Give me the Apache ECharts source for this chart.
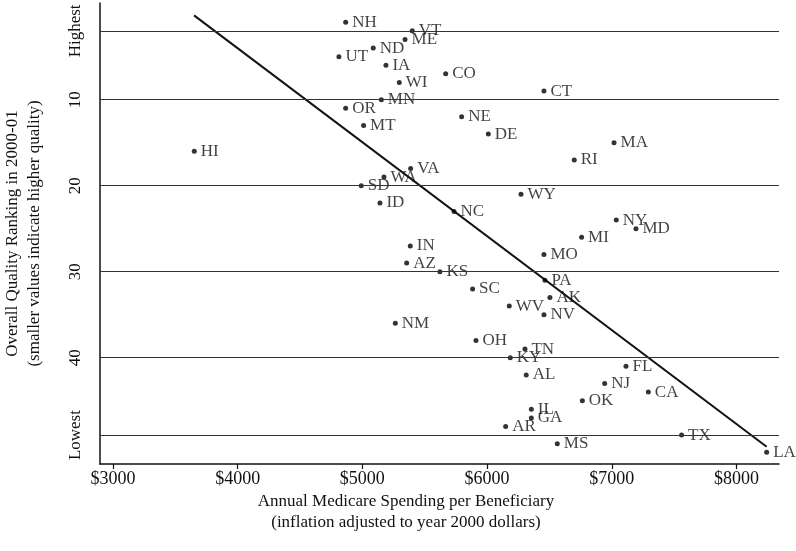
<!DOCTYPE html>
<html>
<head>
<meta charset="utf-8">
<script src="https://cdn.jsdelivr.net/npm/echarts@6/dist/echarts.min.js"></script>
<style>
  html, body { margin: 0; padding: 0; background: #fff; }
  #main { width: 796px; height: 551px; }
</style>
</head>
<body>
<div id="main"></div>
<script>
// states, spending ($ per beneficiary) and quality rank
var states = ['NH','VT','ME','ND','UT','IA','CO','WI','CT','MN','OR','NE','MT','DE','MA','HI','RI','VA','WA','SD',
  'WY','ID','NC','NY','MD','MI','IN','MO','AZ','KS','PA','SC','AK','WV','NV','NM','OH','TN','KY','FL',
  'AL','NJ','CA','OK','IL','GA','AR','TX','MS','LA'];
var spending = [4866,5400,5342,5087,4812,5189,5668,5296,6456,5152,4866,5796,5010,6010,7018,3652,6699,5387,5173,4991,
  6272,5141,5735,7036,7194,6758,5384,6456,5355,5622,6464,5884,6504,6178,6456,5264,5911,6304,6186,7114,
  6314,6943,7293,6764,6355,6355,6149,7560,6563,8242];
var ranks = [1,2,3,4,5,6,7,8,9,10,11,12,13,14,15,16,17,18,19,20,
  21,22,23,24,25,26,27,28,29,30,31,32,33,34,35,36,38,39,40,41,
  42,43,44,45,46,47,48,49,50,51];

// fitted line ends
var fitX = [3650, 8242];
var fitY = [0.2, 50.35];

var xTicks = [3000, 4000, 5000, 6000, 7000, 8000];
var yTicks = [2, 10, 20, 30, 40, 49];
var yTickNames = {2: 'Highest', 49: 'Lowest'};

var font = 'Liberation Serif';
var ink = '#000';

var chart = echarts.init(document.getElementById('main'));

var points = [];
for (var i = 0; i < states.length; i++) {
  points.push([spending[i], ranks[i], states[i]]);
}

var option = {
  animation: false,
  title: {
    text: 'Annual Medicare Spending per Beneficiary\n(inflation adjusted to year 2000 dollars)',
    left: 401,
    top: 486,
    textAlign: 'center',
    textStyle: {
      fontFamily: font,
      fontWeight: 'normal',
      fontSize: 17,
      lineHeight: 21,
      color: '#111'
    }
  },
  grid: {
    left: 100,
    right: 17,
    top: 3,
    bottom: 87,
    outerBoundsMode: 'none'
  },
  xAxis: {
    type: 'value',
    min: 2896,
    max: 8341,
    axisLine: { show: true, onZero: false, lineStyle: { color: '#111', width: 1.5 } },
    axisTick: { show: true, customValues: xTicks, length: 5, lineStyle: { color: '#111', width: 1.2 } },
    splitLine: { show: false },
    axisLabel: {
      customValues: xTicks,
      margin: 6,
      fontFamily: font,
      fontSize: 18,
      color: '#111',
      formatter: function (v) { return '$' + v; }
    }
  },
  yAxis: {
    type: 'value',
    inverse: true,
    min: -1.24,
    max: 52.36,
    name: 'Overall Quality Ranking in 2000-01\n(smaller values indicate higher quality)',
    nameLocation: 'middle',
    nameRotate: 90,
    nameGap: 54,
    nameTextStyle: {
      fontFamily: font,
      fontSize: 17,
      lineHeight: 22,
      color: '#111'
    },
    axisLine: { show: true, onZero: false, lineStyle: { color: '#111', width: 1.5 } },
    axisTick: { show: false },
    splitLine: { show: false },
    axisLabel: {
      customValues: yTicks,
      rotate: 90,
      margin: 16,
      fontFamily: font,
      fontSize: 17,
      color: '#111',
      formatter: function (v) { return yTickNames[v] || String(v); }
    }
  },
  series: [{
    type: 'scatter',
    data: points,
    symbolSize: 5,
    itemStyle: { color: ink },
    label: {
      show: true,
      position: 'right',
      distance: 4,
      fontFamily: font,
      fontSize: 17,
      color: '#111',
      textBorderWidth: 0,
      formatter: function (p) { return p.value[2]; }
    },
    markLine: {
      silent: true,
      symbol: 'none',
      label: { show: false },
      lineStyle: { color: '#333', width: 1.2, type: 'solid' },
      data: yTicks.map(function (v) { return { yAxis: v }; })
    },
    z: 3
  }, {
    type: 'line',
    data: [[fitX[0], fitY[0]], [fitX[1], fitY[1]]],
    showSymbol: false,
    lineStyle: { color: '#111', width: 2 },
    z: 2
  }]
};

chart.setOption(option);
</script>
</body>
</html>
